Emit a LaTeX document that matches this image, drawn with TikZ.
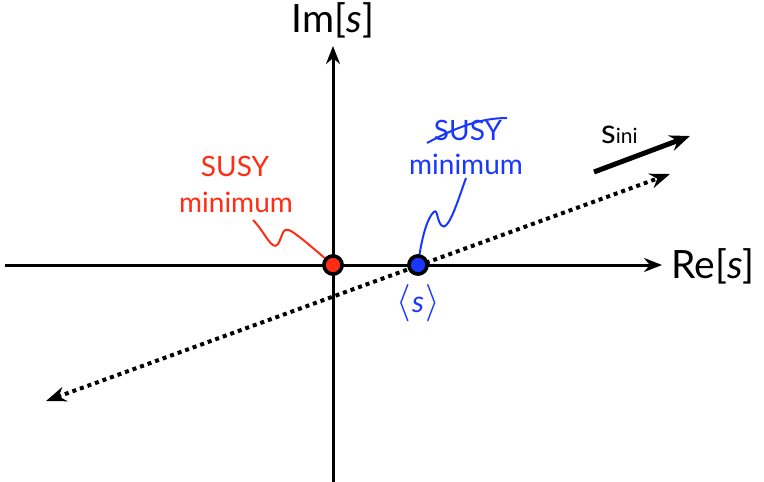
\documentclass[tikz,border=0pt]{standalone}
\usepackage{fontspec}
\setmainfont{Lato}
\usetikzlibrary{arrows.meta}
\definecolor{myred}{RGB}{255,45,20}
\definecolor{myblue}{RGB}{25,55,255}
\begin{document}
\begin{tikzpicture}[x=1pt,y=-1pt,
  axis/.style={line width=3pt,-{Stealth[length=18pt,width=14pt]}},
  dotline/.style={line width=4pt,dash pattern=on 4pt off 4pt,{Stealth[length=20pt,width=15pt]}-{Stealth[length=20pt,width=15pt]}},
  axlabel/.style={font=\fontsize{39}{41}\selectfont,inner sep=0pt},
  lbl/.style={font=\fontsize{28}{30}\selectfont,inner sep=0pt},
  dot/.style={circle,draw=black,line width=3.5pt,minimum size=18pt,inner sep=0pt},
  wig/.style={line width=2pt}]
\useasboundingbox (0,0) rectangle (764,482);
\coordinate (xl) at (5,265);
\coordinate (xr) at (662,265);
\coordinate (yb) at (333,482);
\coordinate (yt) at (333,46);
\draw[axis] (xl) -- (xr);
\draw[axis] (yb) -- (yt);
\node[axlabel] (im) at (333,20) {Im[\textit{s}]};
\node[axlabel] (re) at (713,266) {Re[\textit{s}]};
\coordinate (d1) at (46,401);
\coordinate (d2) at (670,174);
\draw[dotline] (d1) -- (d2);
\coordinate (s1) at (594,172);
\coordinate (s2) at (690,136);
\draw[line width=5pt,-{Stealth[length=20pt,width=16pt]}] (s1) -- (s2);
\node[font=\fontsize{34}{36}\selectfont,inner sep=0pt,anchor=base west] (sini) at (601,143) {s\kern0pt{\fontsize{21}{24}\selectfont ini}};
\node[dot,fill=myred] (rd) at (333,265) {};
\node[dot,fill=myblue] (bd) at (418,265) {};
\node[text=myblue,font=\fontsize{30}{32}\selectfont,inner sep=0pt] (avg) at (418,303) {\scalebox{1.5}{$\langle$}\kern1pt\textit{s}\kern1pt\scalebox{1.5}{$\rangle$}};
\node[lbl,text=myred] (rs) at (235,166) {SUSY};
\node[lbl,text=myred] (rm) at (236,202) {minimum};
\node[lbl,text=myblue] (bs) at (468,130) {SUSY};
\node[lbl,text=myblue] (bm) at (466,164) {minimum};
\draw[myblue,line width=2pt] (427,143) .. controls (455,128) and (480,118) .. (507,118);
\coordinate (rw) at (253,220);
\draw[wig,myred] (rw) .. controls (265,232) and (272,252) .. (278,244)
  .. controls (283,236) and (282,226) .. (291,231)
  .. controls (302,238) and (315,250) .. (rd.center);
\coordinate (bw) at (466,178);
\draw[wig,myblue] (bw) .. controls (458,200) and (448,234) .. (441,225)
  .. controls (436,218) and (438,206) .. (432,214)
  .. controls (424,225) and (420,250) .. (bd.center);
\node[dot,fill=myred] at (333,265) {};
\node[dot,fill=myblue] at (418,265) {};
\end{tikzpicture}
\end{document}
